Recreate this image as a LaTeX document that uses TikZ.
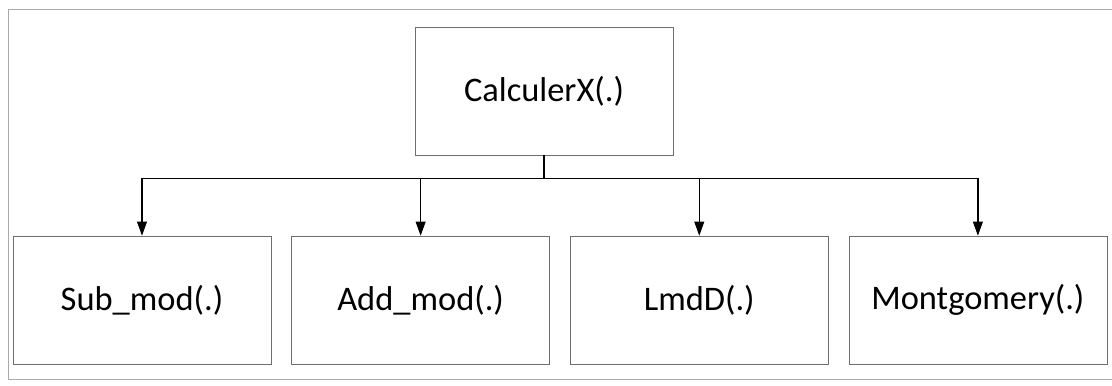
\documentclass[tikz,border=0pt]{standalone}
\usepackage{fontspec}
\setmainfont{Carlito}
\definecolor{boxgray}{RGB}{110,110,110}
\definecolor{framegray}{RGB}{170,170,170}
\usetikzlibrary{arrows.meta, positioning}

\begin{document}
\begin{tikzpicture}[x=0.025cm, y=-0.025cm,
    funbox/.style={draw=boxgray, minimum width=6.45cm, minimum height=3.2cm,
                   inner sep=0pt, font=\fontsize{24.5}{29}\selectfont},
    link/.style={draw=black, line width=0.9pt},
    down/.style={link, -{Triangle[length=10pt, width=7pt]}}]
        \useasboundingbox (0,0) rectangle (1112,386);
        \draw[draw=framegray, thin] (8,9) rectangle (1125,379);
        \node[funbox] (calc) at (544,91) {CalculerX(.)};
        \node[funbox] (sub) at (142,300) {Sub\_mod(.)};
        \node[funbox, right=0.5cm of sub] (add) {Add\_mod(.)};
        \node[funbox, right=0.5cm of add] (lmd) {LmdD(.)};
        \node[funbox, right=0.5cm of lmd] (mont) {Montgomery(.)};
        \draw[link] (calc.south) -- ++(0,23) coordinate (bus);
        \draw[link] (bus -| sub) -- (bus -| mont);
        \foreach \f in {sub, add, lmd, mont}
          \draw[down] (bus -| \f) -- (\f.north);
      \end{tikzpicture}
\end{document}
